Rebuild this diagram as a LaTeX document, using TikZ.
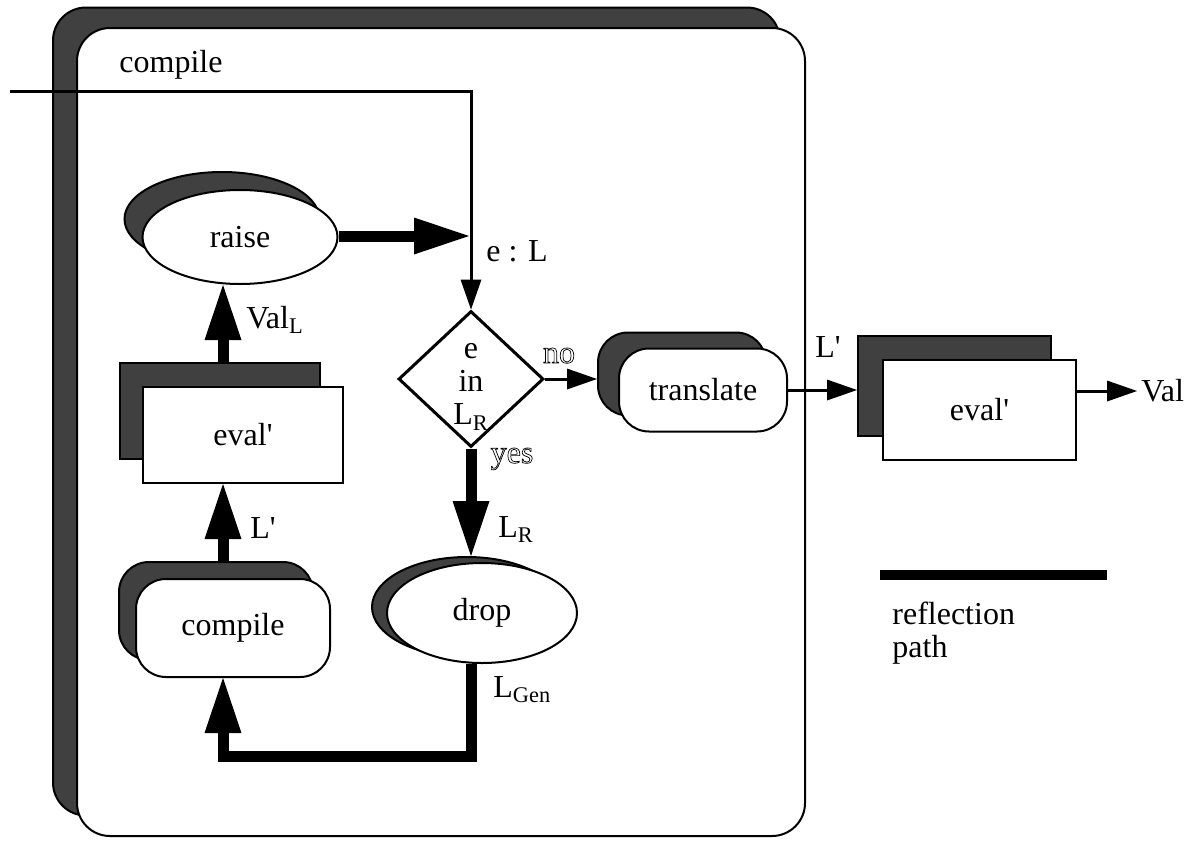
\documentclass[tikz,border=0pt]{standalone}
\usepackage{fontspec}
\setmainfont{Liberation Serif}
\usetikzlibrary{shapes.geometric,arrows.meta}
\definecolor{shadowgray}{HTML}{404040}
\tikzstyle{back}=[draw=black,fill=shadowgray,line width=1pt,inner sep=0pt]
\tikzstyle{front}=[draw=black,fill=white,line width=1pt,inner sep=0pt,font=\fontsize{16}{19}\selectfont]
\tikzstyle{oval}=[ellipse]
\tikzstyle{pill}=[rectangle,rounded corners=15pt]
\tikzstyle{box}=[rectangle]
\tikzstyle{thinedge}=[draw,line width=1.5pt,-{Triangle[length=15pt,width=10.5pt,line width=0pt]}]
\tikzstyle{thickedge}=[draw,line width=5.5pt,-{Triangle[length=27.5pt,width=18.5pt,line width=0pt]}]
\tikzstyle{weight}=[inner sep=0pt,font=\fontsize{16}{19}\selectfont]
% outline letters (stroke only)
\newcommand{\hollow}[1]{\special{pdf:literal 1 Tr 0.35 w}#1\special{pdf:literal 0 Tr}}

\begin{document}
\begin{tikzpicture}[x=0.5pt,y=-0.5pt]
\useasboundingbox (0,0) rectangle (1199,841);

% outer compile box
\node[back,pill,rounded corners=16.5pt,minimum width=363.5pt,minimum height=404pt] (outerb) at (416.5,411.5) {};
\node[front,pill,rounded corners=16.5pt,minimum width=364pt,minimum height=404pt] (outer) at (441,432) {};
\node[weight,anchor=base west] (title) at (119,72) {compile};

% ovals
\foreach \pos/\dx/\dy/\w/\h/\name in {{(240,237)/-18/-18/97.5/47/raise}, {(482,613)/-15/-6/95/50/drop}} {
  \node[back,oval,minimum width=\w pt,minimum height=\h pt,shift={(\dx,\dy)}] (\name b) at \pos {};
  \node[front,oval,minimum width=\w pt,minimum height=\h pt] (\name) at \pos {\name};
}

% boxes
\foreach \pos/\dx/\dy/\w/\h/\name in {{(243,435)/-23/-24/100/48/evalL}, {(979.5,410)/-25/-24/96.5/50/evalR}} {
  \node[back,box,minimum width=\w pt,minimum height=\h pt,shift={(\dx,\dy)}] (\name b) at \pos {};
  \node[front,box,minimum width=\w pt,minimum height=\h pt] (\name) at \pos {eval\textquotesingle};
}

% rounded boxes
\foreach \pos/\dx/\dy/\w/\h/\name in {{(233,628)/-17/-17/97/49/compile}, {(703,390)/-21/-16/84/41.5/translate}} {
  \node[back,pill,minimum width=\w pt,minimum height=\h pt,shift={(\dx,\dy)}] (\name b) at \pos {};
  \node[front,pill,minimum width=\w pt,minimum height=\h pt] (\name) at \pos {\name};
}

% test
\node[diamond,draw,line width=1.5pt,fill=white,inner sep=0pt,minimum width=72.5pt,minimum height=68pt] (test) at (471,379) {};
\node[weight,align=center,font=\fontsize{16}{16.5}\selectfont] (testtext) at (471,387) {e\\in\\L\textsubscript{R}};

\coordinate (start) at (10,91);
\coordinate (colx) at (223,0);
\coordinate (join) at (469,236);
\coordinate (turn) at (470,756);

% connectors
\path[thinedge] (start) -| (test.north);
\path[thickedge] (raise.east |- join) -- (join);
\path[thickedge] (evalLb.north -| colx) -- (raise.south -| colx);
\path[thickedge] (compileb.north -| colx) -- (evalL.south -| colx);
\path[thinedge] (test.east) -- (test.east -| translateb.west);
\path[thinedge] (translate.east) -- (translate.east -| evalRb.west);
\node[weight,inner xsep=2pt,anchor=west] (val) at (1137,391) {Val};
\path[thinedge] (evalR.east |- val.west) -- (val.west);
\path[thickedge] (test.south) -- (test.south |- dropb.north);
\path[thickedge] (drop.south -| test.south) -- (test.south |- turn) -| (compile.south -| colx);

% labels
\node[weight,anchor=base] (eL) at (517,261) {e : L};
\node[weight,anchor=base] (no) at (559,363) {\hollow{no}};
\node[weight,anchor=base] (yes) at (512,463) {\hollow{yes}};
\node[weight,anchor=base west] (lr) at (498,537) {L\textsubscript{R}};
\node[weight,anchor=base west] (vall) at (246,328) {Val\textsubscript{L}};
\node[weight,anchor=base] (lp1) at (263,538) {L\textquotesingle};
\node[weight,anchor=base] (lp2) at (828,357) {L\textquotesingle};
\node[weight,anchor=base west] (lgen) at (493,697) {L\textsubscript{Gen}};

% legend
\coordinate (ra) at (880,575);
\coordinate (rb) at (1107,575);
\path[draw,line width=5pt] (ra) -- (rb);
\node[weight,anchor=base west] (refl) at (892,624) {reflection};
\node[weight,anchor=base west] (refp) at (892,657) {path};

\end{tikzpicture}
\end{document}
